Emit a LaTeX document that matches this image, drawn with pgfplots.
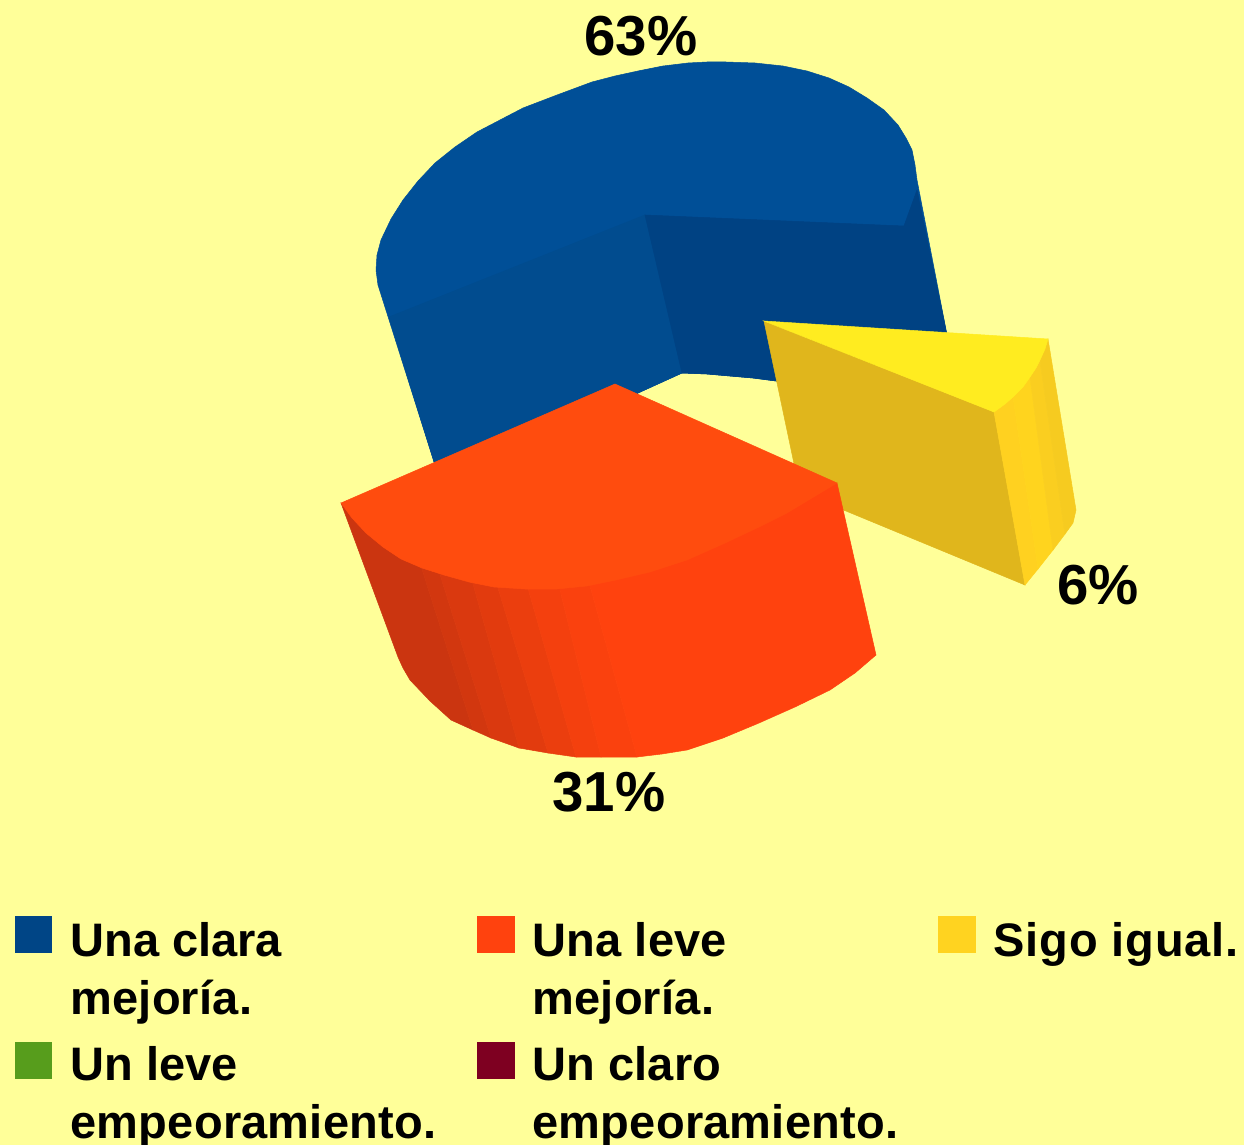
\documentclass[border=0pt]{standalone}
\usepackage{pgfplots}
\pgfplotsset{compat=1.18}
\usepackage{fontspec}
\setmainfont{Liberation Sans}
\definecolor{bg}{HTML}{FFFF99}
\definecolor{blueTop}{HTML}{004F97}
\definecolor{blueWall}{HTML}{014C8F}
\definecolor{blueDark}{HTML}{004283}
\definecolor{blueL}{HTML}{004586}
\definecolor{orTop}{HTML}{FF4C0E}
\definecolor{orL}{HTML}{FF420E}
\definecolor{yeTop}{HTML}{FFEC20}
\definecolor{yeWall}{HTML}{E0B61C}
\definecolor{yeL}{HTML}{FFD320}
\definecolor{grL}{HTML}{579D1C}
\definecolor{reL}{HTML}{7E0021}
\definecolor{y1}{HTML}{FFD120}\definecolor{y2}{HTML}{FFD41E}\definecolor{y3}{HTML}{FACE20}\definecolor{y4}{HTML}{F6CB20}
\definecolor{o1}{HTML}{CB3510}\definecolor{o2}{HTML}{D2370F}\definecolor{o3}{HTML}{DA390F}
\definecolor{o4}{HTML}{E23B0E}\definecolor{o5}{HTML}{EB3E0E}\definecolor{o6}{HTML}{F4400E}
\definecolor{o7}{HTML}{FA410E}
\pgfplotsset{poly/.style={fill=#1,draw=#1,line width=0.25pt,mark=none,forget plot}}
\begin{document}
\begin{tikzpicture}
\begin{axis}[scale only axis,width=622pt,height=572.5pt,xmin=0,xmax=1244,ymin=0,ymax=1145,y dir=reverse,hide axis,clip=true]
% background
\addplot[fill=bg,draw=none,mark=none,forget plot] coordinates {(0,0)(1244,0)(1244,1145)(0,1145)} -- cycle;
% blue slice
\addplot[poly=blueTop] coordinates {(376,270)(377,255)(381,240)(391,219)(403,200)(418,181)(435,163)(455,147)(477,132)(500,120)(523,108)(557,95)(592,82)(615,76)(638,71)(663,66)(688,63)(707,62)(726,62)(755,63)(783,66)(807,71)(829,78)(849,87)(867,98)(884,110)(898,125)(906,138)(912,150)(915,165)(917,180)(947,335)(947,345)(800,385)(776,381)(753,378)(707,374)(682,373)(638,393)(600,420)(435,465)(378,285)} -- cycle;
\addplot[poly=blueWall] coordinates {(389,317)(645,215)(682,373)(638,393)(600,420)(435,465)} -- cycle;
\addplot[poly=blueDark] coordinates {(645,215)(904,226)(917,190)(947,335)(947,345)(800,385)(776,381)(753,378)(707,374)(682,373)} -- cycle;
% yellow slice
\addplot[poly=yeWall] coordinates {(764,321)(994,412)(1025,585)(800,492)} -- cycle;
\addplot[poly=y1] coordinates {(994,412)(1013,397)(1038,569)(1025,585)} -- cycle;
\addplot[poly=y2] coordinates {(1013,397)(1030,377)(1053,550)(1038,569)} -- cycle;
\addplot[poly=y3] coordinates {(1030,377)(1040,360)(1065,534)(1053,550)} -- cycle;
\addplot[poly=y4] coordinates {(1040,360)(1048,339)(1076,510)(1073,523)(1065,534)} -- cycle;
\addplot[poly=yeTop] coordinates {(764,321)(1048,339)(1045,349)(1040,360)(1036,368)(1030,377)(1023,387)(1013,397)(1005,404)(994,412)} -- cycle;
% orange slice: side bands
\addplot[poly=o1] coordinates {(341,503)(419,560)(473,730)(451,720)(430,701)(410,680)(403,668)(398,657)} -- cycle;
\addplot[poly=o2] coordinates {(419,560)(437,565)(491,738)(473,730)} -- cycle;
\addplot[poly=o3] coordinates {(437,565)(469,570)(519,748)(491,738)} -- cycle;
\addplot[poly=o4] coordinates {(469,570)(494,575)(548,753)(519,748)} -- cycle;
\addplot[poly=o5] coordinates {(494,575)(525,578)(576,757)(548,753)} -- cycle;
\addplot[poly=o6] coordinates {(525,578)(557,578)(601,757)(576,757)} -- cycle;
\addplot[poly=o7] coordinates {(557,578)(587,575)(637,757)(601,757)} -- cycle;
\addplot[poly=orL] coordinates {(587,575)(837,483)(876,655)(855,673)(830,690)(795,707)(759,723)(723,738)(687,750)(662,754)(637,757)} -- cycle;
\addplot[poly=orTop] coordinates {(615,384)(837,483)(812,498)(787,513)(759,527)(723,544)(687,560)(650,572)(616,580)(587,586)(557,589)(525,589)(494,587)(469,582)(444,575)(422,568)(401,559)(383,547)(366,533)(352,518)(341,503)} -- cycle;
% legend keys
\addplot[poly=blueL] coordinates {(15,916)(51,916)(51,952)(15,952)} -- cycle;
\addplot[poly=orL] coordinates {(477,916)(514,916)(514,952)(477,952)} -- cycle;
\addplot[poly=yeL] coordinates {(938,916)(975,916)(975,952)(938,952)} -- cycle;
\addplot[poly=grL] coordinates {(15,1042)(51,1042)(51,1078)(15,1078)} -- cycle;
\addplot[poly=reL] coordinates {(477,1042)(514,1042)(514,1078)(477,1078)} -- cycle;
% labels
\tikzset{pc/.style={anchor=base,font=\fontsize{28.2}{30}\selectfont\bfseries,inner sep=0pt},
 lg/.style={anchor=base west,font=\fontsize{23.5}{25}\selectfont\bfseries,inner sep=0pt}}
\node[pc] at (axis cs:641,56) {63\%};
\node[pc] at (axis cs:609,811) {31\%};
\node[pc] at (axis cs:1098,604) {6\%};
\node[lg] at (axis cs:70,956) {Una clara};
\node[lg] at (axis cs:70,1014) {\addfontfeature{LetterSpace=0.5}mejoría.};
\node[lg] at (axis cs:70,1080) {\addfontfeature{LetterSpace=0.1}Un leve};
\node[lg] at (axis cs:70,1138) {\addfontfeature{LetterSpace=0.5}empeoramiento.};
\node[lg] at (axis cs:532,956) {\addfontfeature{LetterSpace=0.5}Una leve};
\node[lg] at (axis cs:532,1014) {\addfontfeature{LetterSpace=0.5}mejoría.};
\node[lg] at (axis cs:532,1080) {\addfontfeature{LetterSpace=0.3}Un claro};
\node[lg] at (axis cs:532,1138) {\addfontfeature{LetterSpace=0.5}empeoramiento.};
\node[lg] at (axis cs:993,956) {\addfontfeature{LetterSpace=1.8}Sigo igual.};
\end{axis}
\pgfresetboundingbox
\path (0,0) rectangle (622pt,572.5pt);
\end{tikzpicture}
\end{document}
